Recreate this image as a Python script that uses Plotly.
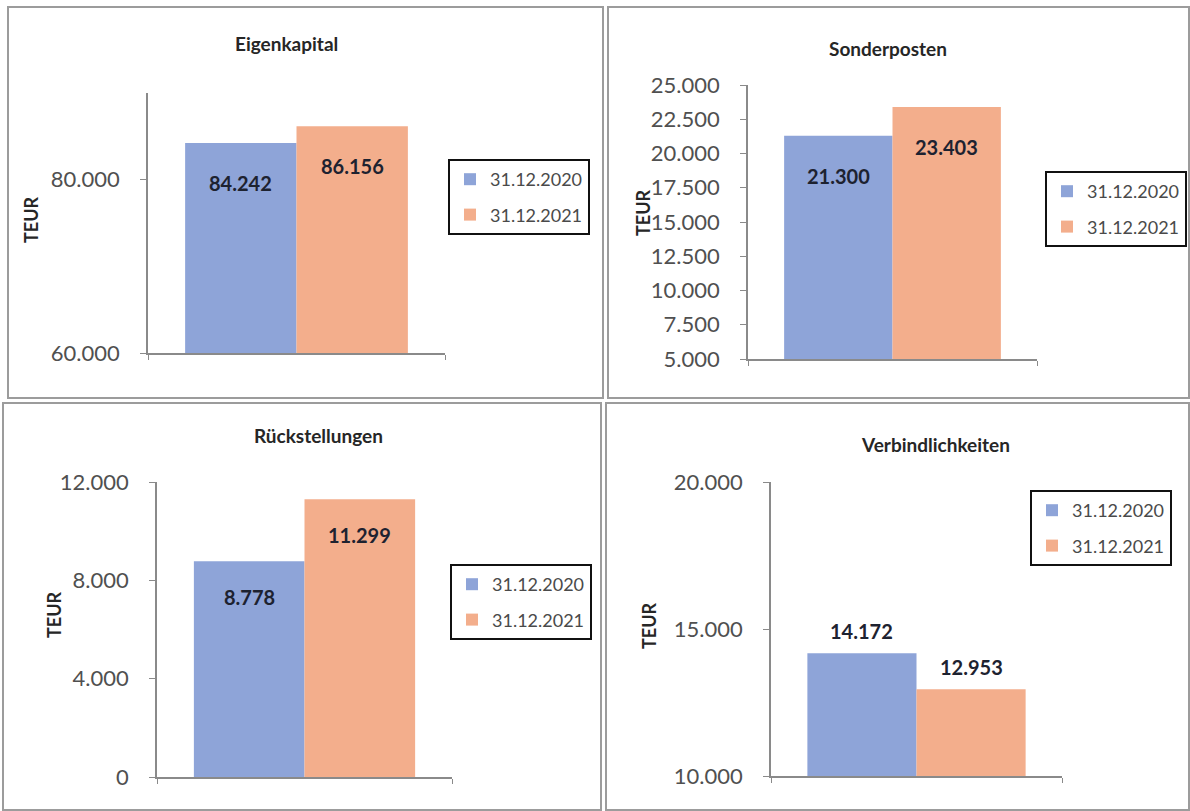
import plotly.graph_objects as go

W, H = 1190, 811

# ---------------- data ----------------
titles = ["Eigenkapital", "Sonderposten", "Rückstellungen", "Verbindlichkeiten"]
series_names = ["31.12.2020", "31.12.2021"]
values_2020 = [84242, 21300, 8778, 14172]
values_2021 = [86156, 23403, 11299, 12953]
y_ranges = [[60000, 90000], [5000, 25000], [0, 12000], [10000, 20000]]
y_tickvals = [
    [60000, 80000],
    [5000, 7500, 10000, 12500, 15000, 17500, 20000, 22500, 25000],
    [0, 4000, 8000, 12000],
    [10000, 15000, 20000],
]
unit_label = "TEUR"
category = ["Bilanzposten"]

colors = ["#8EA4D8", "#F3AE8C"]

# ---------------- layout (pixel positions) ----------------
panels = [
    dict(plot=(148, 445, 93, 353), title=(286, 44), unit=(31, 220), legend=(448, 159),
         label_pos="inside", label_shift=-40, box=(8, 7, 603, 398)),
    dict(plot=(748, 1037, 85, 359), title=(888, 48), unit=(643, 213), legend=(1045, 171),
         label_pos="inside", label_shift=-40, box=(608, 7, 1189, 398)),
    dict(plot=(157, 452, 482, 777), title=(318, 435), unit=(54, 615), legend=(450, 564),
         label_pos="inside", label_shift=-36, box=(3, 403, 601, 810)),
    dict(plot=(771, 1062, 482, 776), title=(935, 445), unit=(649, 625), legend=(1030, 490),
         label_pos="outside", label_shift=22, box=(606, 403, 1189, 810)),
]

def px_x(p):
    return p / W

def px_y(p):
    return 1 - p / H

BARGAP = 0.25
fig = go.Figure()
layout = dict(
    template="none",
    width=W, height=H, autosize=False,
    margin=dict(l=0, r=0, t=0, b=0, pad=0, autoexpand=False),
    paper_bgcolor="white", plot_bgcolor="white",
    separators=",.",
    barmode="group", bargap=BARGAP, bargroupgap=0,
    font=dict(family="Lato, Open Sans, sans-serif", color="#444"),
    showlegend=True,
)
annotations = []
shapes = []

for i, pan in enumerate(panels):
    n = i + 1
    xa = "x" if n == 1 else f"x{n}"
    ya = "y" if n == 1 else f"y{n}"
    xkey = "xaxis" if n == 1 else f"xaxis{n}"
    ykey = "yaxis" if n == 1 else f"yaxis{n}"
    lkey = "legend" if n == 1 else f"legend{n}"
    x0, x1, ytop, ybot = pan["plot"]

    vals = [values_2020[i], values_2021[i]]
    for s, (name, v) in enumerate(zip(series_names, vals)):
        fig.add_trace(go.Bar(
            x=category, y=[v], name=name,
            marker=dict(color=colors[s], line=dict(width=0)),
            xaxis=xa, yaxis=ya, legend=lkey, legendgroup=f"{n}-{s}",
            hoverinfo="skip",
        ))

    layout[xkey] = dict(
        domain=[px_x(x0), px_x(x1)], anchor=ya,
        range=[-0.5, 0.5], type="category", automargin=False,
        showline=True, linecolor="#8a8a8a", linewidth=1.5,
        ticks="outside", tickson="boundaries", ticklen=5, tickcolor="#8a8a8a",
        showticklabels=False, showgrid=False, zeroline=False, fixedrange=True,
    )
    layout[ykey] = dict(
        domain=[px_y(ybot), px_y(ytop)], anchor=xa, automargin=False,
        range=y_ranges[i], tickvals=y_tickvals[i], tickformat=",d",
        showline=True, linecolor="#8a8a8a", linewidth=1.5,
        ticks="outside", ticklen=6, tickcolor="#8a8a8a",
        tickfont=dict(size=22, color="#505050"),
        ticklabelstandoff=16,
        showgrid=False, zeroline=False, fixedrange=True,
    )
    lx, ly = pan["legend"]
    layout[lkey] = dict(
        x=px_x(lx), y=px_y(ly), xanchor="left", yanchor="top",
        xref="paper", yref="paper",
        bgcolor="white", bordercolor="#111", borderwidth=2,
        font=dict(size=18, color="#4a4a4a"),
        itemwidth=30, tracegroupgap=9, traceorder="grouped",
    )

    # value labels
    bar_px = (x1 - x0) * (1 - BARGAP) / 2
    for s, v in enumerate(vals):
        shift = pan["label_shift"]
        annotations.append(dict(
            x=category[0], y=v, xref=xa, yref=ya,
            xshift=(-bar_px / 2) if s == 0 else (bar_px / 2),
            yshift=shift,
            text=f"{v:,}".replace(",", "."),
            showarrow=False, xanchor="center", yanchor="middle",
            font=dict(size=20, color="#1d2230", family="Lato, sans-serif", weight="bold"),
        ))

    # chart title
    tx, ty = pan["title"]
    annotations.append(dict(
        x=px_x(tx), y=px_y(ty), xref="paper", yref="paper",
        text=f"<b>{titles[i]}</b>", showarrow=False,
        xanchor="center", yanchor="middle",
        font=dict(size=19, color="#262626"),
    ))
    # unit label
    ux, uy = pan["unit"]
    annotations.append(dict(
        x=px_x(ux), y=px_y(uy), xref="paper", yref="paper",
        text=f"<b>{unit_label}</b>", showarrow=False, textangle=-90,
        xanchor="center", yanchor="middle",
        font=dict(size=18, color="#262626"),
    ))
    # panel border
    bx0, by0, bx1, by1 = pan["box"]
    shapes.append(dict(
        type="rect", xref="paper", yref="paper",
        x0=px_x(bx0), x1=px_x(bx1), y0=px_y(by1), y1=px_y(by0),
        line=dict(color="#9c9c9c", width=2), fillcolor="rgba(0,0,0,0)", layer="below",
    ))

layout["annotations"] = annotations
layout["shapes"] = shapes
fig.update_layout(**layout)

fig.write_html(
    "out.html",
    config={"displayModeBar": False},
    post_script="document.body.style.margin='0';document.body.style.overflow='hidden';",
)
